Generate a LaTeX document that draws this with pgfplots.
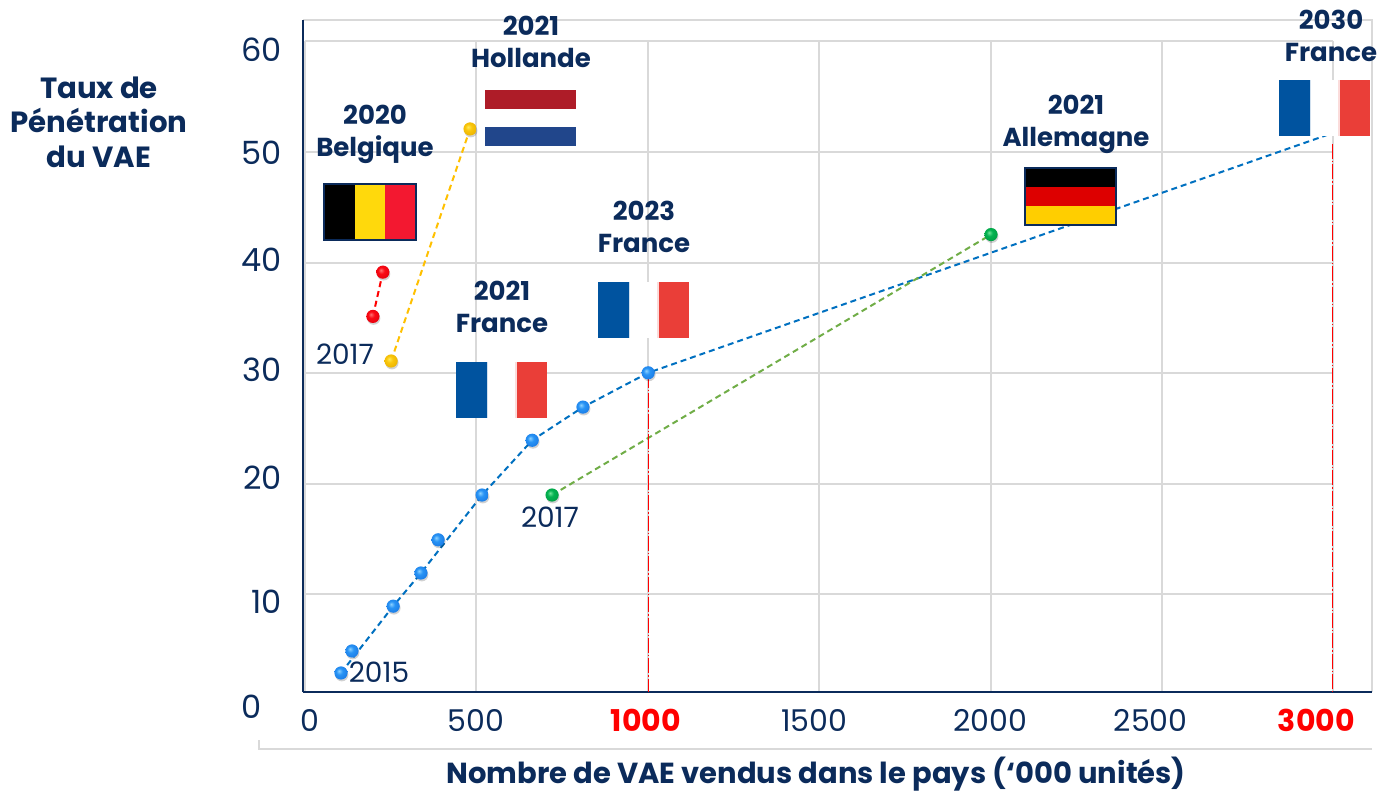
\documentclass[border=0pt]{standalone}
\usepackage{fontspec}
\setmainfont{Poppins}
\usepackage{pgfplots}
\pgfplotsset{compat=1.18}
\definecolor{navy}{RGB}{11,43,91}
\definecolor{gridc}{RGB}{217,217,217}
\definecolor{lineblue}{RGB}{0,112,192}
\definecolor{linegreen}{RGB}{112,173,71}
\definecolor{lineyellow}{RGB}{255,192,0}
\definecolor{frblue}{RGB}{0,83,159}
\definecolor{frred}{RGB}{234,62,56}
\definecolor{nlred}{RGB}{174,28,40}
\definecolor{nlblue}{RGB}{33,70,139}
\definecolor{beyellow}{RGB}{255,217,12}
\definecolor{bered}{RGB}{243,24,48}
\definecolor{dered}{RGB}{221,0,0}
\definecolor{deyellow}{RGB}{255,206,0}

% glossy points with a soft shadow
\pgfdeclareradialshading{sblue}{\pgfpoint{-8bp}{8bp}}{rgb(0bp)=(0.55,0.82,1);rgb(12bp)=(0.16,0.58,0.96);rgb(30bp)=(0.10,0.48,0.90);rgb(50bp)=(0.06,0.34,0.72)}
\pgfdeclareradialshading{sgreen}{\pgfpoint{-8bp}{8bp}}{rgb(0bp)=(0.45,0.9,0.6);rgb(12bp)=(0.02,0.70,0.32);rgb(30bp)=(0,0.62,0.26);rgb(50bp)=(0,0.45,0.18)}
\pgfdeclareradialshading{syellow}{\pgfpoint{-8bp}{8bp}}{rgb(0bp)=(1,0.92,0.35);rgb(12bp)=(0.98,0.78,0.05);rgb(30bp)=(0.92,0.70,0);rgb(50bp)=(0.72,0.52,0)}
\pgfdeclareradialshading{sred}{\pgfpoint{-8bp}{8bp}}{rgb(0bp)=(1,0.45,0.45);rgb(12bp)=(0.98,0.04,0.08);rgb(30bp)=(0.90,0,0.05);rgb(50bp)=(0.70,0,0.03)}
\newcommand{\declball}[1]{%
  \pgfdeclareplotmark{#1}{%
    \begin{pgfscope}
      \pgfsetfillcolor{black}\pgfsetfillopacity{0.18}%
      \pgfpathcircle{\pgfpoint{0.4pt}{-0.9pt}}{\pgfplotmarksize}\pgfusepathqfill
    \end{pgfscope}
    \pgfpathcircle{\pgfpointorigin}{\pgfplotmarksize}%
    \pgfshadepath{#1}{0}\pgfusepath{discard}}}
\declball{sblue}\declball{sgreen}\declball{syellow}\declball{sred}

% shift a tick label sideways / up (pt), so it sits where the slide has it
\newcommand{\sx}[2]{\kern#1pt #2\kern-#1pt\relax}
\newcommand{\sy}[2]{\raisebox{#1pt}[1.2ex][0pt]{#2}}
\newcommand{\labfont}{\fontsize{13}{16}\selectfont\bfseries}

\newcommand{\frflag}[2]{% left, top in px
  \fill[frblue] (#1,#2) rectangle ++(30.5,56);
  \fill[frblue!18] (#1+30.5,#2) rectangle ++(1.5,56);
  \fill[white] (#1+32,#2) rectangle ++(27,56);
  \fill[frred!18] (#1+59,#2) rectangle ++(1.5,56);
  \fill[frred] (#1+60.5,#2) rectangle ++(30,56);}

\begin{document}
\begin{tikzpicture}
\path[use as bounding box] (0,0) rectangle (689.5pt,396.5pt);

% grid and frame, in reference pixels
\begin{scope}[x=0.5pt,y=-0.5pt,yshift=396.5pt,gridc,line width=0.85pt]
  \draw (303,20) -- (1372,20) -- (1372,692);
  \foreach \yy in {41,152,263,373,484,594} \draw (305,\yy) -- (1333,\yy);
  \foreach \xx in {305,476,648,819,991,1162,1333} \draw (\xx,41) -- (\xx,692);
  \draw (259,740) -- (259,749) -- (1372,749);
\end{scope}

\begin{axis}[
  at={(151.5pt,50.5pt)},anchor=south west,
  scale only axis,width=534.5pt,height=336pt,
  xmin=-4.7,xmax=3110,ymin=1.14,ymax=61.9,
  axis x line*=bottom,axis y line*=left,
  axis line style={navy,line width=1.25pt,-},
  major tick length=0pt,
  clip=false,
  xtick={0,500,1000,1500,2000,2500,3000},
  ytick={10,20,30,40,50,60},
  xticklabels={\sx{2.5}{0},\sx{0}{500},\sx{-1}{\textcolor{red}{\textbf{1000}}},
    \sx{-2.5}{1500},\sx{-0.5}{2000},\sx{-6}{2500},\sx{-9}{\textcolor{red}{\textbf{3000}}}},
  yticklabels={\sy{-4.3}{10},\sy{2.3}{20},\sy{1}{30},\sy{0.5}{40},\sy{-1}{50},\sy{-5}{60}},
  xticklabel style={font=\fontsize{15}{15}\selectfont,text=navy,yshift=-5pt},
  yticklabel style={font=\fontsize{16}{16}\selectfont,text=navy,xshift=-7pt},
]
% trend lines
\addplot[lineblue,line width=1pt,densely dashed] coordinates
  {(106,2.86) (258,8.9) (339,11.9) (517,18.95) (663,23.9) (811,26.9) (1001,30) (2997,51.7)};
\addplot[linegreen,line width=1pt,densely dashed] coordinates {(721,18.95) (2000,42.5)};
\addplot[lineyellow,line width=1pt,densely dashed] coordinates {(252,31.07) (482,52.05)};
\addplot[red,line width=1pt,densely dashed] coordinates {(199,35.1) (228,39.1)};
% projections
\addplot[red,line width=0.65pt,dash pattern=on 7.5pt off 1pt on 0.7pt off 1pt] coordinates {(1001,30) (1001,1.14)};
\addplot[red,line width=0.65pt,dash pattern=on 7.5pt off 1pt on 0.7pt off 1pt] coordinates {(2994,50.7) (2994,1.14)};
% points
\addplot[only marks,mark=sblue,mark size=3.3pt] coordinates
  {(106,2.86) (138,4.85) (258,8.9) (339,11.9) (389,14.9) (517,18.95) (663,23.9) (811,26.9) (1001,30)};
\addplot[only marks,mark=sgreen,mark size=3.3pt] coordinates {(721,18.95) (2000,42.5)};
\addplot[only marks,mark=syellow,mark size=3.3pt] coordinates {(252,31.07) (482,52.05)};
\addplot[only marks,mark=sred,mark size=3.3pt] coordinates {(199,35.1) (228,39.1)};
\end{axis}

% flags and slide texts, in reference pixels
\begin{scope}[x=0.5pt,y=-0.5pt,yshift=396.5pt]
  \fill[nlred] (485,90) rectangle (576,109);
  \fill[white] (485,109) rectangle (576,127);
  \fill[nlblue] (485,127) rectangle (576,146);
  \fill (324,184) rectangle (355,240);
  \fill[beyellow] (355,184) rectangle (385,240);
  \fill[bered] (385,184) rectangle (416,240);
  \draw[navy,line width=0.7pt] (324,184) rectangle (416,240);
  \frflag{598}{282}
  \frflag{456}{362}
  \frflag{1279}{80}
  \fill (1025,168) rectangle (1116,187);
  \fill[dered] (1025,187) rectangle (1116,206);
  \fill[deyellow] (1025,206) rectangle (1116,225);
  \draw[navy,line width=0.7pt] (1025,168) rectangle (1116,225);

  \tikzset{lab/.style={text=navy,font=\labfont,align=center,inner sep=0pt}}
  \node[lab] at (531,42) {2021\\Hollande};
  \node[lab] at (375,134) {2020\\Belgique};
  \node[lab] at (644,227) {2023\\France};
  \node[lab] at (502,307) {2021\\France};
  \node[lab] at (1076,124) {2021\\Allemagne};
  \node[lab] at (1331,36) {2030\\France};
  \node[text=navy,align=center,inner sep=0pt,font=\fontsize{14.6}{17.3}\selectfont\bfseries] at (99,122) {Taux de\\Pénétration\\du VAE};
  \node[text=navy,inner sep=0pt,font=\fontsize{14.5}{16}\selectfont\bfseries] at (816,774) {Nombre de VAE vendus dans le pays (‘000 unités)};
  \tikzset{yr/.style={text=navy,font=\fontsize{14}{14}\selectfont,inner sep=0pt}}
  \node[yr] at (345,354) {2017};
  \node[yr] at (550,517) {2017};
  \node[yr] at (379,672) {2015};
  \node[text=navy,font=\fontsize{16}{16}\selectfont,inner sep=0pt] at (252,707) {0};
\end{scope}
\end{tikzpicture}
\end{document}
